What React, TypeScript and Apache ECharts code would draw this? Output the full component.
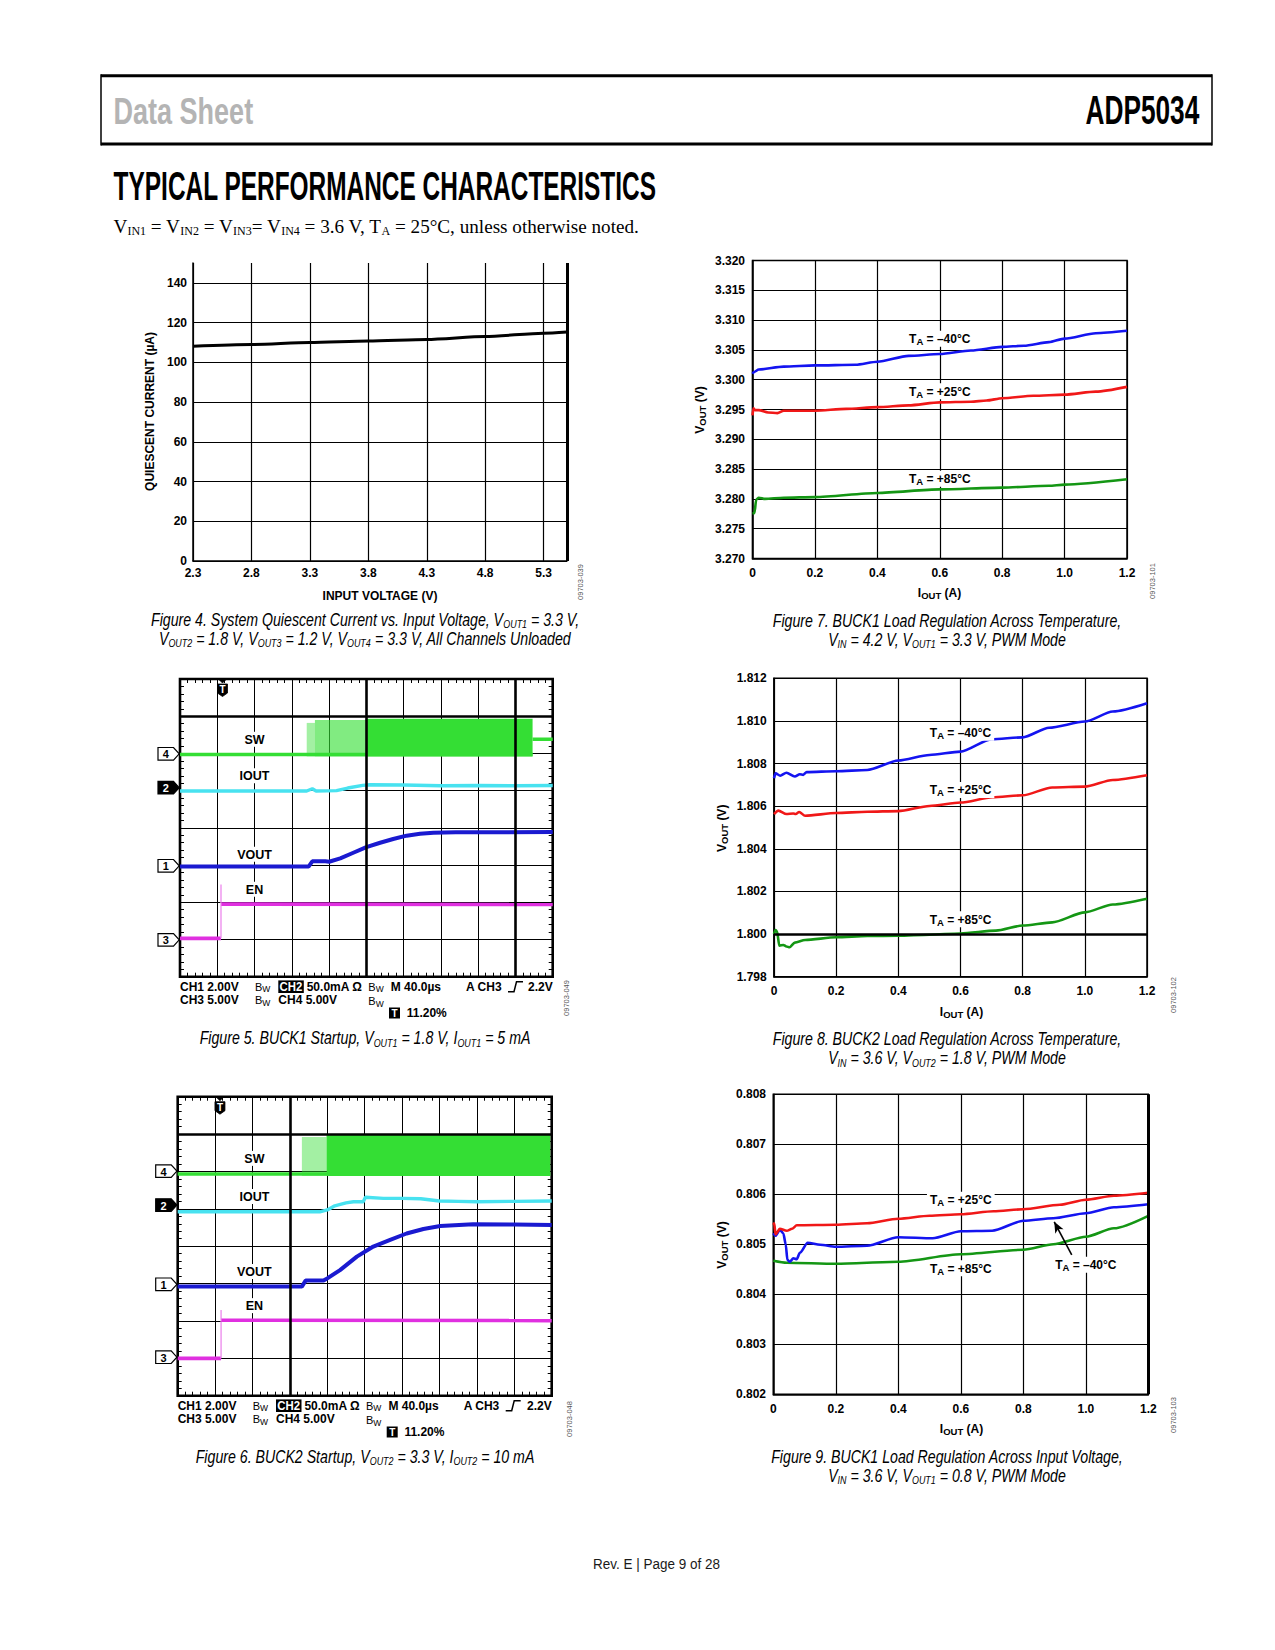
import { useEffect, useRef } from 'react';
import * as echarts from 'echarts';

const FONT = "'Liberation Sans', Arial, Helvetica, sans-serif";
const SERIF = "'Liberation Serif', 'Times New Roman', serif";

// ---------------- DATA ----------------
// Figure 4: quiescent current vs input voltage
const fig4Volts = [2.3, 2.8, 3.3, 3.8, 4.3, 4.8, 5.3, 5.5];
const fig4Current = [108.1, 109.0, 110.0, 110.8, 111.5, 113.0, 114.7, 115.3];
const fig4XStart = 2.3;

// Figure 7: BUCK1 load regulation (VOUT1 = 3.3 V)
const fig7XM40 = [0, 0.005, 0.02, 0.1, 0.2, 0.33, 0.4, 0.5, 0.6, 0.7, 0.8, 0.87, 0.95, 1.0, 1.1, 1.2];
const fig7YM40 = [3.3010, 3.3013, 3.3017, 3.3022, 3.3024, 3.3025, 3.3030, 3.3040, 3.3043, 3.3049, 3.3055, 3.3057, 3.3063, 3.3069, 3.3078, 3.3082];
const fig7XP25 = [0, 0.003, 0.008, 0.02, 0.05, 0.08, 0.1, 0.2, 0.3, 0.4, 0.5, 0.6, 0.7, 0.75, 0.8, 0.9, 1.0, 1.1, 1.2];
const fig7YP25 = [3.2940, 3.2952, 3.2949, 3.2949, 3.2945, 3.2944, 3.2948, 3.2948, 3.2951, 3.2954, 3.2957, 3.2962, 3.2963, 3.2965, 3.2969, 3.2973, 3.2975, 3.2980, 3.2988];
const fig7XP85 = [0, 0.006, 0.012, 0.02, 0.04, 0.1, 0.2, 0.4, 0.6, 0.8, 0.95, 1.0, 1.2];
const fig7YP85 = [3.2776, 3.2776, 3.2799, 3.2802, 3.2800, 3.2802, 3.2803, 3.2810, 3.2816, 3.2819, 3.2822, 3.2824, 3.2833];

// Figure 8: BUCK2 load regulation (VOUT2 = 1.8 V)
const fig8XM40 = [0, 0.005, 0.02, 0.04, 0.067, 0.083, 0.094, 0.105, 0.2, 0.3, 0.4, 0.5, 0.6, 0.7, 0.8, 0.885, 1.0, 1.09, 1.2];
const fig8YM40 = [1.80731, 1.80754, 1.80743, 1.80757, 1.80739, 1.8075, 1.80747, 1.8076, 1.80764, 1.8077, 1.80814, 1.8084, 1.80856, 1.80914, 1.80923, 1.80968, 1.80997, 1.81044, 1.81083];
const fig8XP25 = [0, 0.014, 0.04, 0.062, 0.07, 0.081, 0.1, 0.2, 0.3, 0.4, 0.5, 0.6, 0.703, 0.8, 0.895, 1.0, 1.09, 1.2];
const fig8YP25 = [1.80563, 1.80579, 1.80563, 1.80566, 1.80563, 1.80573, 1.80555, 1.80568, 1.80574, 1.80577, 1.80601, 1.80617, 1.80642, 1.80651, 1.80688, 1.80692, 1.80723, 1.80745];
const fig8XP85 = [0, 0.005, 0.01, 0.017, 0.03, 0.04, 0.05, 0.067, 0.1, 0.2, 0.3, 0.4, 0.5, 0.6, 0.714, 0.8, 0.895, 1.0, 1.09, 1.2];
const fig8YP85 = [1.8000, 1.80019, 1.80012, 1.79945, 1.79949, 1.79942, 1.79938, 1.7996, 1.79972, 1.79985, 1.79991, 1.79992, 1.79997, 1.80003, 1.80016, 1.8004, 1.80055, 1.80102, 1.80139, 1.80166];

// Figure 9: BUCK1 load regulation (VOUT1 = 0.8 V)
const fig9XP25 = [0, 0.003, 0.007, 0.021, 0.043, 0.06, 0.075, 0.2, 0.3, 0.4, 0.5, 0.6, 0.705, 0.8, 0.917, 1.0, 1.09, 1.2];
const fig9YP25 = [0.80539, 0.80542, 0.8052, 0.80531, 0.80527, 0.80531, 0.80538, 0.80539, 0.80542, 0.80551, 0.80557, 0.8056, 0.80566, 0.8057, 0.80579, 0.80589, 0.80597, 0.80603];
const fig9XM40 = [0, 0.007, 0.021, 0.032, 0.04, 0.045, 0.053, 0.064, 0.075, 0.085, 0.11, 0.15, 0.2, 0.3, 0.4, 0.51, 0.6, 0.7, 0.8, 0.896, 1.0, 1.09, 1.2];
const fig9YM40 = [0.80522, 0.80517, 0.80529, 0.80522, 0.80499, 0.80469, 0.80465, 0.80472, 0.8047, 0.80483, 0.80503, 0.80499, 0.80495, 0.80497, 0.80514, 0.80512, 0.80526, 0.80527, 0.80547, 0.80552, 0.80562, 0.80574, 0.8058];
const fig9XP85 = [0, 0.043, 0.2, 0.4, 0.6, 0.8, 0.896, 1.0, 1.09, 1.2];
const fig9YP85 = [0.80467, 0.80463, 0.80461, 0.80465, 0.8048, 0.80489, 0.805, 0.80515, 0.80532, 0.80557];

// Figure 5: BUCK1 startup scope traces (divisions)
const fig5SwBase = [[0, 5.97], [9.46, 5.97]];
const fig5SwAfter = [[9.46, 6.38], [10, 6.38]];
const fig5SwBands = [[3.4, 3.62, 5.92, 6.82, 0.45], [3.62, 4.98, 5.92, 6.9, 0.62], [4.98, 9.46, 5.92, 6.93, 1]];
const fig5Iout = [[0, 4.99], [3.4, 4.99], [3.55, 5.05], [3.65, 4.99], [4.2, 5.0], [4.5, 5.07], [4.9, 5.14], [5.1, 5.16], [6, 5.15], [7, 5.13], [8, 5.14], [9, 5.13], [10, 5.14]];
const fig5Vout = [[0, 2.96], [3.45, 2.96], [3.55, 3.1], [3.9, 3.1], [4.0, 3.09], [4.3, 3.18], [4.65, 3.33], [5.0, 3.48], [5.37, 3.6], [5.72, 3.7], [6.08, 3.79], [6.44, 3.84], [6.8, 3.87], [7.4, 3.88], [8.8, 3.88], [10, 3.89]];
const fig5EnLow = [[0, 1.03], [1.1, 1.03]];
const fig5EnEdge = [[1.1, 1.03], [1.1, 2.48]];
const fig5EnHigh = [[1.11, 1.95], [10, 1.94]];
const fig5Levels = [5.99, 5.08, 2.98, 0.99];
const fig5LabelY = [6.38, 5.40, 3.29, 2.35];
const fig5LabelX = 2.0;
const fig5Trigger = 1.14;
const fig5BoldX = [5, 9];
const fig5BoldY = [7];

// Figure 6: BUCK2 startup scope traces (divisions)
const fig6SwBase = [[0, 5.93], [9.96, 5.93]];
const fig6SwBands = [[3.32, 3.98, 5.88, 6.92, 0.45], [3.98, 9.96, 5.88, 6.98, 1]];
const fig6Iout = [[0, 4.92], [3.8, 4.92], [4.0, 4.97], [4.2, 5.08], [4.5, 5.16], [4.7, 5.19], [4.96, 5.19], [5.02, 5.31], [5.5, 5.28], [6.0, 5.28], [6.5, 5.27], [7.0, 5.21], [7.5, 5.2], [8.0, 5.19], [9, 5.2], [10, 5.21]];
const fig6Vout = [[0, 2.92], [3.32, 2.92], [3.42, 3.08], [3.9, 3.08], [4.0, 3.14], [4.34, 3.36], [4.79, 3.72], [5.23, 3.99], [5.68, 4.17], [6.12, 4.34], [6.57, 4.46], [7.02, 4.54], [7.9, 4.59], [9, 4.58], [10, 4.57]];
const fig6EnLow = [[0, 1.0], [1.16, 1.0]];
const fig6EnEdge = [[1.16, 1.0], [1.16, 2.29]];
const fig6EnHigh = [[1.17, 2.02], [10, 2.01]];
const fig6Levels = [6.01, 5.1, 2.98, 1.03];
const fig6LabelY = [6.35, 5.33, 3.32, 2.41];
const fig6LabelX = 2.05;
const fig6Trigger = 1.13;
const fig6BoldX = [3];
const fig6BoldY = [7];

const scopeChannels = ['4', '2', '1', '3'];
const scopeChannelFilled = [false, true, false, false];
const traceNames = ['SW', 'IOUT', 'VOUT', 'EN'];

// ---------------- STYLE / LAYOUT ----------------
const C_BLUE = '#1414f0';
const C_RED = '#f01818';
const C_GREEN = '#149614';
const SW_GREEN = '#34de34';
const IOUT_CYAN = '#48e2f0';
const VOUT_BLUE = '#1a1ad0';
const EN_MAG = '#e030e0';

const GRIDS = [
  { left: 193, top: 263, width: 374, height: 298 }, // fig4
  { left: 752.5, top: 260.5, width: 374.5, height: 298 }, // fig7
  { left: 180, top: 679, width: 372.7, height: 297.7 }, // fig5
  { left: 774, top: 678.3, width: 373, height: 298.4 }, // fig8
  { left: 177.7, top: 1096.7, width: 374, height: 299 }, // fig6
  { left: 773.3, top: 1094.3, width: 375, height: 300 }, // fig9
];

const pairs = (xs: number[], ys: number[]) => xs.map((x, i) => [x, ys[i]]);

const lblRich = {
  m: { fontFamily: FONT, fontWeight: 'bold', fontSize: 12, lineHeight: 15, color: '#000' },
  s: { fontFamily: FONT, fontWeight: 'bold', fontSize: 9.5, lineHeight: 9, verticalAlign: 'bottom', color: '#000' },
};
const taLabel = (t: string) => `{m|T}{s|A}{m| = ${t}}`;

function markLabel(coord: number[], str: string, rich: any) {
  return {
    symbol: 'rect',
    symbolSize: 1,
    silent: true,
    animation: false,
    itemStyle: { color: 'rgba(0,0,0,0)' },
    label: { show: true, position: 'inside', formatter: () => str, rich, backgroundColor: '#fff', padding: [1, 3, 0, 3] },
    data: [{ coord }],
  };
}

function boldLines(xs: number[], ys: number[], width: number) {
  return {
    silent: true,
    animation: false,
    symbol: ['none', 'none'],
    label: { show: false },
    lineStyle: { color: '#000', width, type: 'solid' },
    data: [...xs.map((v) => ({ xAxis: v })), ...ys.map((v) => ({ yAxis: v }))],
  };
}

function valueAxis(gridIndex: number, min: number, max: number, interval: number, fmt: any, margin: number, extra: any = {}) {
  return {
    type: 'value', gridIndex, min, max, interval,
    axisLine: { show: true, onZero: false, lineStyle: { color: '#000', width: 1.5 } },
    axisTick: { show: false },
    axisLabel: { show: true, margin, formatter: fmt, fontFamily: FONT, fontWeight: 'bold', fontSize: 12, color: '#000' },
    splitLine: { show: true, lineStyle: { color: '#000', width: 1.2 } },
    ...extra,
  };
}

function scopeAxis(gridIndex: number, max: number, position: string, main: boolean) {
  return {
    type: 'value', gridIndex, min: 0, max, interval: 1, position,
    axisLine: { show: false, onZero: false },
    axisTick: { show: true, inside: true, length: 4, lineStyle: { color: '#000', width: 1 } },
    minorTick: { show: true, splitNumber: 5, length: 4, lineStyle: { color: '#000', width: 1 } },
    axisLabel: { show: false },
    splitLine: { show: main, lineStyle: { color: '#000', width: 1 } },
  };
}

const f1 = (v: number) => (Math.abs(v) < 1e-9 ? '0' : v.toFixed(1));

function lineSeries(xi: number, data: any[], color: string, width: number, extra: any = {}) {
  return {
    type: 'line', xAxisIndex: xi, yAxisIndex: xi, data, showSymbol: false, symbol: 'none',
    lineStyle: { color, width }, itemStyle: { color }, z: 3, animation: false, ...extra,
  };
}

function bandSeries(xi: number, data: number[][]) {
  return {
    type: 'custom', xAxisIndex: xi, yAxisIndex: xi, z: 2, animation: false, silent: true,
    encode: { x: [0, 1], y: [2, 3] },
    renderItem: (_p: any, api: any) => {
      const a = api.coord([api.value(0), api.value(3)]);
      const b = api.coord([api.value(1), api.value(2)]);
      return {
        type: 'rect',
        shape: { x: a[0], y: a[1], width: b[0] - a[0], height: b[1] - a[1] },
        style: { fill: SW_GREEN, opacity: api.value(4) },
      };
    },
    data,
  };
}

function buildOption() {
  const G: any[] = [];
  const text = (x: number, y: number, t: string, o: any = {}) => {
    G.push({
      type: 'text', x, y, rotation: o.rotation || 0, scaleX: o.scaleX || 1, silent: true, z: 100,
      style: {
        text: t, fill: o.color || '#000', fontFamily: o.family || FONT, fontSize: o.size || 12,
        fontWeight: o.weight || 'normal', fontStyle: o.fstyle || 'normal',
        align: o.align || 'center', verticalAlign: o.valign || 'middle',
        textAlign: o.align || 'center', textVerticalAlign: o.valign || 'middle',
        rich: o.rich, lineHeight: o.lineHeight,
      },
    });
  };
  const line = (x1: number, y1: number, x2: number, y2: number, w: number, color = '#000') =>
    G.push({ type: 'line', silent: true, z: 100, shape: { x1, y1, x2, y2 }, style: { stroke: color, lineWidth: w } });
  const rect = (x: number, y: number, w: number, h: number, fill: string) =>
    G.push({ type: 'rect', silent: true, z: 100, shape: { x, y, width: w, height: h }, style: { fill } });
  const poly = (points: number[][], fill: string, stroke: string, lw: number) =>
    G.push({ type: 'polygon', silent: true, z: 100, shape: { points }, style: { fill, stroke, lineWidth: lw } });
  const polyline = (points: number[][], lw: number) =>
    G.push({ type: 'polyline', silent: true, z: 100, shape: { points }, style: { stroke: '#000', lineWidth: lw, fill: 'none' } });

  // header
  line(101, 75.7, 1212, 75.7, 3);
  line(101, 144, 1212, 144, 3);
  line(101, 74.2, 101, 145.5, 1.5);
  line(1212, 74.2, 1212, 145.5, 1.5);
  text(113.6, 111, 'Data Sheet', { align: 'left', size: 37, weight: 'bold', color: '#b4b4b4', scaleX: 0.73 });
  text(1199.3, 109.5, 'ADP5034', { align: 'right', size: 41, weight: 'bold', scaleX: 0.64 });
  text(113.6, 186, 'TYPICAL PERFORMANCE CHARACTERISTICS', { align: 'left', size: 40, weight: 'bold', scaleX: 0.611 });

  const serRich = {
    m: { fontFamily: SERIF, fontSize: 19.15, lineHeight: 22, color: '#1a1a1a' },
    s: { fontFamily: SERIF, fontSize: 12, lineHeight: 12, verticalAlign: 'bottom', color: '#1a1a1a' },
  };
  text(113.6, 226,
    '{m|V}{s|IN1}{m| = V}{s|IN2}{m| = V}{s|IN3}{m|= V}{s|IN4}{m| = 3.6 V, T}{s|A}{m| = 25°C, unless otherwise noted.}',
    { align: 'left', rich: serRich, family: SERIF, size: 19.15, lineHeight: 22 });

  // captions
  const capRich = {
    m: { fontFamily: FONT, fontStyle: 'italic', fontSize: 17.5, lineHeight: 20, color: '#1a1a1a' },
    s: { fontFamily: FONT, fontStyle: 'italic', fontSize: 11, lineHeight: 11, verticalAlign: 'bottom', color: '#1a1a1a' },
  };
  const cap = (x: number, y: number, t: string) =>
    text(x, y, t, { rich: capRich, fstyle: 'italic', size: 17.5, lineHeight: 20, scaleX: 0.81 });
  cap(365, 619.6, '{m|Figure 4. System Quiescent Current vs. Input Voltage, V}{s|OUT1}{m| = 3.3 V,}');
  cap(365, 638.6, '{m|V}{s|OUT2}{m| = 1.8 V, V}{s|OUT3}{m| = 1.2 V, V}{s|OUT4}{m| = 3.3 V, All Channels Unloaded}');
  cap(947, 620.7, '{m|Figure 7. BUCK1 Load Regulation Across Temperature,}');
  cap(947, 639.6, '{m|V}{s|IN}{m| = 4.2 V, V}{s|OUT1}{m| = 3.3 V, PWM Mode}');
  cap(365, 1038.3, '{m|Figure 5. BUCK1 Startup, V}{s|OUT1}{m| = 1.8 V, I}{s|OUT1}{m| = 5 mA}');
  cap(947, 1039.4, '{m|Figure 8. BUCK2 Load Regulation Across Temperature,}');
  cap(947, 1058.3, '{m|V}{s|IN}{m| = 3.6 V, V}{s|OUT2}{m| = 1.8 V, PWM Mode}');
  cap(365, 1457, '{m|Figure 6. BUCK2 Startup, V}{s|OUT2}{m| = 3.3 V, I}{s|OUT2}{m| = 10 mA}');
  cap(947, 1457, '{m|Figure 9. BUCK1 Load Regulation Across Input Voltage,}');
  cap(947, 1476, '{m|V}{s|IN}{m| = 3.6 V, V}{s|OUT1}{m| = 0.8 V, PWM Mode}');

  // footer
  text(656.5, 1564, 'Rev. E | Page 9 of 28', { size: 15.5, scaleX: 0.87, color: '#1a1a1a' });

  // side numbers
  const side = (x: number, y: number, t: string) => text(x, y, t, { size: 7.5, color: '#555', rotation: Math.PI / 2 });
  side(580, 582, '09703-039');
  side(1152, 581, '09703-101');
  side(566.5, 998, '09703-049');
  side(1173, 995, '09703-102');
  side(569, 1419, '09703-048');
  side(1173, 1415, '09703-103');

  // axis titles
  text(380, 596, 'INPUT VOLTAGE (V)', { weight: 'bold', size: 12 });
  text(150, 411.5, 'QUIESCENT CURRENT (µA)', { weight: 'bold', size: 12, rotation: Math.PI / 2 });
  const vout = '{m|V}{s|OUT}{m| (V)}';
  const iout = '{m|I}{s|OUT}{m| (A)}';
  text(939.5, 593.3, iout, { rich: lblRich, lineHeight: 15 });
  text(700, 410, vout, { rich: lblRich, lineHeight: 15, rotation: Math.PI / 2 });
  text(961.5, 1011.7, iout, { rich: lblRich, lineHeight: 15 });
  text(721.7, 828.3, vout, { rich: lblRich, lineHeight: 15, rotation: Math.PI / 2 });
  text(961.5, 1429.3, iout, { rich: lblRich, lineHeight: 15 });
  text(721.7, 1245, vout, { rich: lblRich, lineHeight: 15, rotation: Math.PI / 2 });

  // scope decorations
  const bwRich = {
    b: { fontFamily: FONT, fontSize: 11, lineHeight: 14, color: '#000' },
    w: { fontFamily: FONT, fontSize: 8.5, lineHeight: 8.5, verticalAlign: 'bottom', color: '#000' },
  };
  const scopeDecor = (g: any, levels: number[], trig: number) => {
    const pxY = (d: number) => g.top + g.height * (1 - d / 8);
    const pxX = (d: number) => g.left + (g.width * d) / 10;
    levels.forEach((lv, i) => {
      const y = pxY(lv);
      const x0 = g.left - 22;
      const xb = g.left - 6.5;
      const xt = g.left - 0.8;
      const filled = scopeChannelFilled[i];
      poly([[x0, y - 6.3], [xb, y - 6.3], [xt, y], [xb, y + 6.3], [x0, y + 6.3]], filled ? '#000' : '#fff', '#000', 1.2);
      text(x0 + 7.8, y + 0.5, scopeChannels[i], { weight: 'bold', size: 11, color: filled ? '#fff' : '#000' });
    });
    // trigger marker
    const tx = pxX(trig);
    const t0 = g.top;
    poly([[tx - 3, t0 + 1], [tx + 3, t0 + 1], [tx, t0 + 4]], '#000', '#000', 0.8);
    poly([[tx - 5, t0 + 5], [tx + 5, t0 + 5], [tx + 5, t0 + 14], [tx, t0 + 17.5], [tx - 5, t0 + 14]], '#000', '#000', 0.8);
    text(tx, t0 + 10.5, 'T', { weight: 'bold', size: 10, color: '#fff' });
    // bottom settings text
    const x = g.left;
    const yb = g.top + g.height;
    const r1 = yb + 10;
    const r2 = yb + 23.6;
    const r3 = yb + 36.3;
    const L = { align: 'left', weight: 'bold', size: 12 };
    const bw = (bx: number, by: number) => text(bx, by, '{b|B}{w|W}', { align: 'left', rich: bwRich, lineHeight: 14 });
    text(x, r1, 'CH1 2.00V', L);
    bw(x + 75, r1);
    rect(x + 98.3, r1 - 6.3, 25.5, 12.6, '#000');
    text(x + 111, r1, 'CH2', { weight: 'bold', size: 12, color: '#fff', scaleX: 0.95 });
    text(x + 126.7, r1, '50.0mA Ω', L);
    bw(x + 188.3, r1);
    text(x + 210.7, r1, 'M 40.0µs', L);
    text(x + 286, r1, 'A CH3', L);
    polyline([[x + 328, r1 + 5], [x + 334, r1 + 5], [x + 336.5, r1 - 5], [x + 343, r1 - 5]], 1.5);
    text(x + g.width, r1, '2.2V', { align: 'right', weight: 'bold', size: 12 });
    text(x, r2, 'CH3 5.00V', L);
    bw(x + 75, r2);
    text(x + 98.3, r2, 'CH4 5.00V', L);
    bw(x + 188.3, r2 + 1);
    rect(x + 209, r3 - 5.5, 11, 11, '#000');
    text(x + 214.5, r3 + 0.5, 'T', { weight: 'bold', size: 10, color: '#fff' });
    text(x + 226.7, r3, '11.20%', L);
  };
  scopeDecor(GRIDS[2], fig5Levels, fig5Trigger);
  scopeDecor(GRIDS[4], fig6Levels, fig6Trigger);

  const scopeRich = {
    m: { fontFamily: FONT, fontWeight: 'bold', fontSize: 12.5, lineHeight: 14, color: '#000' },
  };
  const traceLabel = (x: number, y: number, i: number) => markLabel([x, y], `{m|${traceNames[i]}}`, scopeRich);

  const f3 = (v: number) => v.toFixed(3);

  const xAxis = [
    valueAxis(0, 0, 3.2, 0.5, (v: number) => (v + fig4XStart).toFixed(1), 5.5, { axisLabel: { show: true, margin: 5.5, showMaxLabel: false, formatter: (v: number) => (v + fig4XStart).toFixed(1), fontFamily: FONT, fontWeight: 'bold', fontSize: 12, color: '#000' } }),
    valueAxis(1, 0, 1.2, 0.2, f1, 8.5),
    scopeAxis(2, 10, 'bottom', true),
    valueAxis(3, 0, 1.2, 0.2, f1, 8),
    scopeAxis(4, 10, 'bottom', true),
    valueAxis(5, 0, 1.2, 0.2, f1, 8.5),
    scopeAxis(2, 10, 'top', false),
    scopeAxis(4, 10, 'top', false),
  ];
  const yAxis = [
    valueAxis(0, 0, 150, 20, (v: number) => String(v), 6, {
      axisLabel: { show: true, margin: 6, showMaxLabel: false, fontFamily: FONT, fontWeight: 'bold', fontSize: 12, color: '#000' },
      splitLine: { show: true, showMaxLine: false, lineStyle: { color: '#000', width: 1.2 } },
    }),
    valueAxis(1, 3.27, 3.32, 0.005, f3, 7.5),
    scopeAxis(2, 8, 'left', true),
    valueAxis(3, 1.798, 1.812, 0.002, f3, 7.3),
    scopeAxis(4, 8, 'left', true),
    valueAxis(5, 0.802, 0.808, 0.001, f3, 7.3),
    scopeAxis(2, 8, 'right', false),
    scopeAxis(4, 8, 'right', false),
  ];

  const smooth = { smooth: 0.25, smoothMonotone: 'x' };

  const series: any[] = [
    // fig 4
    lineSeries(0, fig4Volts.map((v, i) => [v - fig4XStart, fig4Current[i]]), '#000', 3, {
      ...smooth,
      markLine: boldLines([3.2], [], 3),
    }),
    // fig 7
    lineSeries(1, pairs(fig7XM40, fig7YM40), C_BLUE, 2.6, { ...smooth, markPoint: markLabel([0.6, 3.30689], taLabel('–40°C'), lblRich) }),
    lineSeries(1, pairs(fig7XP25, fig7YP25), C_RED, 2.6, { ...smooth, markPoint: markLabel([0.6, 3.29807], taLabel('+25°C'), lblRich) }),
    lineSeries(1, pairs(fig7XP85, fig7YP85), C_GREEN, 2.6, { ...smooth, markPoint: markLabel([0.6, 3.28339], taLabel('+85°C'), lblRich) }),
    // fig 8
    { type: 'line', xAxisIndex: 3, yAxisIndex: 3, data: [], z: 1, animation: false, markLine: boldLines([], [1.8], 2.5) },
    lineSeries(3, pairs(fig8XM40, fig8YM40), C_BLUE, 2.6, { ...smooth, markPoint: markLabel([0.6, 1.80945], taLabel('–40°C'), lblRich) }),
    lineSeries(3, pairs(fig8XP25, fig8YP25), C_RED, 2.6, { ...smooth, markPoint: markLabel([0.6, 1.80676], taLabel('+25°C'), lblRich) }),
    lineSeries(3, pairs(fig8XP85, fig8YP85), C_GREEN, 2.6, { ...smooth, markPoint: markLabel([0.6, 1.80069], taLabel('+85°C'), lblRich) }),
    // fig 9
    { type: 'line', xAxisIndex: 5, yAxisIndex: 5, data: [], z: 1, animation: false, markLine: boldLines([1.2], [], 3) },
    lineSeries(5, pairs(fig9XP85, fig9YP85), C_GREEN, 2.6, { ...smooth, markPoint: markLabel([0.6, 0.80452], taLabel('+85°C'), lblRich) }),
    lineSeries(5, pairs(fig9XM40, fig9YM40), C_BLUE, 2.6, {
      ...smooth,
      markPoint: markLabel([1.0, 0.80459], taLabel('–40°C'), lblRich),
      markLine: {
        silent: true, animation: false, symbol: ['none', 'arrow'], symbolSize: [7, 11], label: { show: false },
        lineStyle: { color: '#000', width: 1.6, type: 'solid' },
        data: [[{ coord: [0.955, 0.80479] }, { coord: [0.899, 0.80545] }]],
      },
    }),
    lineSeries(5, pairs(fig9XP25, fig9YP25), C_RED, 2.6, { ...smooth, markPoint: markLabel([0.6, 0.80589], taLabel('+25°C'), lblRich) }),

    // fig 5 scope
    { type: 'line', xAxisIndex: 2, yAxisIndex: 2, data: [], z: 1, animation: false, markLine: boldLines(fig5BoldX, fig5BoldY, 2.6) },
    lineSeries(2, fig5SwBase, SW_GREEN, 3.6, { markPoint: traceLabel(fig5LabelX, fig5LabelY[0], 0) }),
    lineSeries(2, fig5SwAfter, SW_GREEN, 3.6),
    bandSeries(2, fig5SwBands),
    lineSeries(2, fig5Iout, IOUT_CYAN, 3.4, { markPoint: traceLabel(fig5LabelX, fig5LabelY[1], 1) }),
    lineSeries(2, fig5Vout, VOUT_BLUE, 4, { markPoint: traceLabel(fig5LabelX, fig5LabelY[2], 2) }),
    lineSeries(2, fig5EnLow, EN_MAG, 3.6, { markPoint: traceLabel(fig5LabelX, fig5LabelY[3], 3) }),
    lineSeries(2, fig5EnEdge, '#ee90ee', 1.4),
    lineSeries(2, fig5EnHigh, EN_MAG, 3.6),

    // fig 6 scope
    { type: 'line', xAxisIndex: 4, yAxisIndex: 4, data: [], z: 1, animation: false, markLine: boldLines(fig6BoldX, fig6BoldY, 2.6) },
    lineSeries(4, fig6SwBase, SW_GREEN, 3.6, { markPoint: traceLabel(fig6LabelX, fig6LabelY[0], 0) }),
    bandSeries(4, fig6SwBands),
    lineSeries(4, fig6Iout, IOUT_CYAN, 3.4, { markPoint: traceLabel(fig6LabelX, fig6LabelY[1], 1) }),
    lineSeries(4, fig6Vout, VOUT_BLUE, 4, { markPoint: traceLabel(fig6LabelX, fig6LabelY[2], 2) }),
    lineSeries(4, fig6EnLow, EN_MAG, 3.6, { markPoint: traceLabel(fig6LabelX, fig6LabelY[3], 3) }),
    lineSeries(4, fig6EnEdge, '#ee90ee', 1.4),
    lineSeries(4, fig6EnHigh, EN_MAG, 3.6),
  ];

  const grid = GRIDS.map((g, i) => ({
    ...g,
    containLabel: false,
    outerBoundsMode: 'none',
    show: i !== 0,
    borderColor: '#000',
    borderWidth: i === 2 || i === 4 ? 2.6 : 1.5,
    backgroundColor: 'rgba(0,0,0,0)',
  }));

  return {
    animation: false,
    backgroundColor: '#fff',
    textStyle: { fontFamily: FONT },
    grid,
    xAxis,
    yAxis,
    series,
    graphic: { elements: G },
  };
}

export default function App() {
  const ref = useRef<HTMLDivElement>(null);
  useEffect(() => {
    if (!ref.current) return;
    const chart = echarts.init(ref.current, null, { renderer: 'svg' });
    chart.setOption(buildOption() as any);
    return () => chart.dispose();
  }, []);
  return (
    <div
      ref={ref}
      style={{ position: 'absolute', left: 0, top: 0, width: 1275, height: 1650, background: '#fff' }}
    />
  );
}
